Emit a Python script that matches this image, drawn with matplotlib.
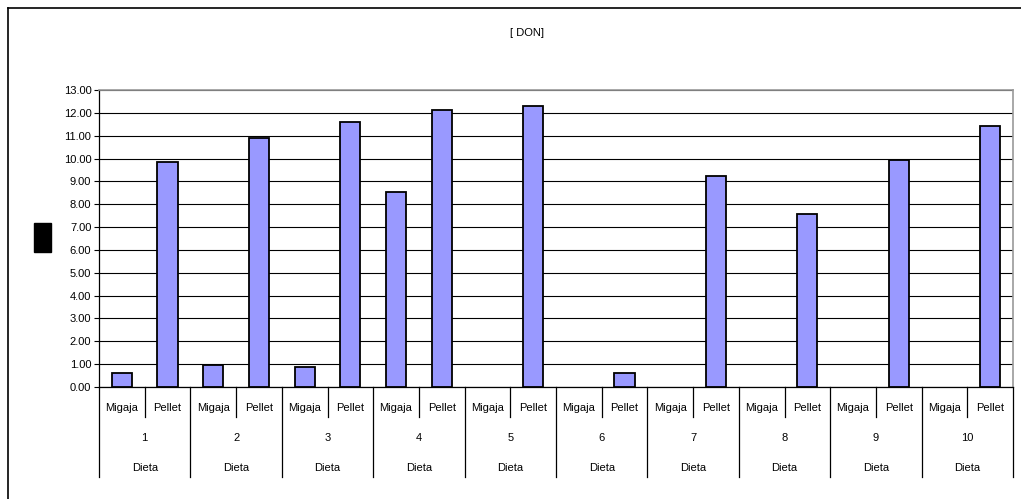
import matplotlib
matplotlib.use("Agg")
import matplotlib.pyplot as plt
import numpy as np
from matplotlib.lines import Line2D
from matplotlib.patches import Rectangle

plt.rcParams["font.family"] = ["Liberation Sans", "DejaVu Sans"]

dietas = ["1", "2", "3", "4", "5", "6", "7", "8", "9", "10"]
formas = ["Migaja", "Pellet"]
migaja = [0.60, 0.96, 0.86, 8.53, np.nan, np.nan, np.nan, np.nan, np.nan, np.nan]
pellet = [9.86, 10.88, 11.58, 12.11, 12.30, 0.60, 9.23, 7.57, 9.93, 11.42]

# interleave so bars go Migaja, Pellet, Migaja, Pellet ...
valores = np.ravel(np.column_stack([migaja, pellet]))
x = np.arange(len(valores))

W, H = 1021, 499
fs = 8
fig = plt.figure(figsize=(W / 100, H / 100), dpi=100)
ax = fig.add_axes([99 / W, 1 - 387 / H, (1013 - 99) / W, (387 - 90) / H])

ax.bar(x, valores, 0.44, color="#9999FF", edgecolor="black", linewidth=1.3, zorder=3)

ax.set_xlim(-0.5, len(valores) - 0.5)
ax.set_ylim(0, 13)
ax.set_yticks(np.arange(0, 14, 1))
ax.set_yticklabels([f"{v:.2f}" for v in np.arange(0, 14, 1)], fontsize=fs)
ax.tick_params(axis="y", length=3.5, width=0.8, pad=2)
ax.set_xticks([])
ax.grid(axis="y", color="black", linewidth=0.8, zorder=0)

for side in ["top", "right"]:
    ax.spines[side].set_color("#999999")
    ax.spines[side].set_linewidth(1.2)
for side in ["left", "bottom"]:
    ax.spines[side].set_color("black")
    ax.spines[side].set_linewidth(0.9)

# multi-level category axis
tr = ax.get_xaxis_transform()
for i in range(len(valores) + 1):
    bottom = -0.303 if i % 2 == 0 else -0.101
    ax.add_line(Line2D([i - 0.5, i - 0.5], [0, bottom], transform=tr,
                       color="black", linewidth=0.9, clip_on=False))
for i in x:
    ax.text(i, -0.07, formas[i % 2], transform=tr, ha="center", va="center", fontsize=fs)
for g, d in enumerate(dietas):
    ax.text(2 * g + 0.5, -0.172, d, transform=tr, ha="center", va="center", fontsize=fs)
    ax.text(2 * g + 0.5, -0.273, "Dieta", transform=tr, ha="center", va="center", fontsize=fs)

fig.text(527 / W, 1 - 33 / H, "[ DON]", ha="center", va="center", fontsize=fs)

# y label rendered as a black block in the original
fig.patches.append(Rectangle((34 / W, 1 - 252 / H), 17 / W, 29 / H,
                             transform=fig.transFigure, color="black"))

# chart frame (cut at right and bottom)
fig.add_artist(Line2D([8 / W, 8 / W], [0, 1 - 8 / H], transform=fig.transFigure,
                      color="black", linewidth=1.2))
fig.add_artist(Line2D([8 / W, 1], [1 - 8 / H, 1 - 8 / H], transform=fig.transFigure,
                      color="black", linewidth=1.2))

fig.savefig("out.png", dpi=100)
